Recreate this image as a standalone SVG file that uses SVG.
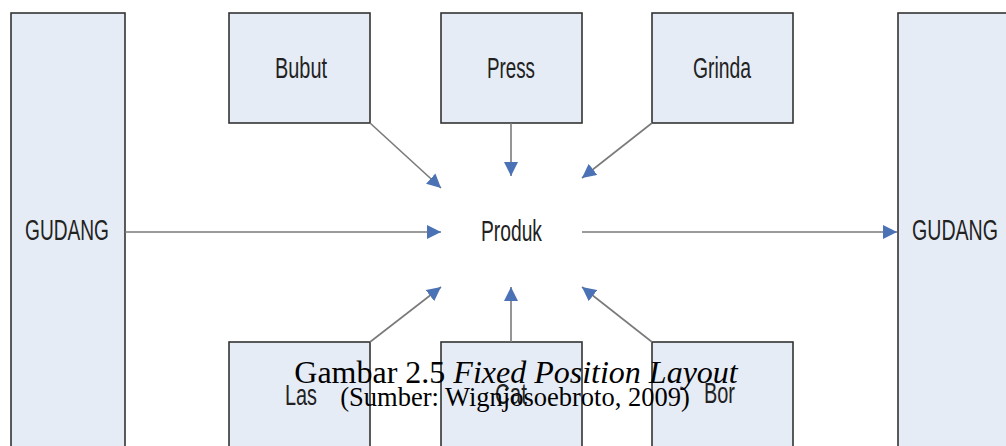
<svg xmlns="http://www.w3.org/2000/svg" width="1006" height="446" viewBox="0 0 1006 446">
<style>
.box{fill:#e6ecf5;stroke:#333;stroke-width:1.6}
.lbl{font-family:"Liberation Sans",Arial,sans-serif;font-size:30px;fill:#222}
.conn line{stroke:#7a7a7a;stroke-width:1.6;marker-end:url(#ah)}
.cap{font-family:"Liberation Serif","Times New Roman",serif;fill:#000}
</style>
<defs>
<marker id="ah" markerUnits="userSpaceOnUse" viewBox="0 0 14 14" refX="14" refY="7" markerWidth="14" markerHeight="14" orient="auto">
<path d="M0,0 L14,7 L0,14 Z" fill="#4a72b5"/>
</marker>
</defs>
<rect width="1006" height="446" fill="#fff"/>
<g id="gudang-left"><rect class="box" x="11" y="13" width="114" height="445"/><text class="lbl" x="25" y="240" textLength="84" lengthAdjust="spacingAndGlyphs">GUDANG</text></g>
<g id="gudang-right"><rect class="box" x="898" y="13" width="114" height="445"/><text class="lbl" x="912" y="240" textLength="86" lengthAdjust="spacingAndGlyphs">GUDANG</text></g>
<g id="bubut"><rect class="box" x="229" y="13" width="141" height="110"/><text class="lbl" x="275" y="78" textLength="52" lengthAdjust="spacingAndGlyphs">Bubut</text></g>
<g id="press"><rect class="box" x="441" y="13" width="141" height="110"/><text class="lbl" x="487" y="78" textLength="48" lengthAdjust="spacingAndGlyphs">Press</text></g>
<g id="grinda"><rect class="box" x="652" y="13" width="141" height="110"/><text class="lbl" x="693" y="78" textLength="58" lengthAdjust="spacingAndGlyphs">Grinda</text></g>
<g id="produk"><text class="lbl" x="481" y="241" textLength="61" lengthAdjust="spacingAndGlyphs">Produk</text></g>
<g id="las"><rect class="box" x="229" y="342" width="141" height="110"/><text class="lbl" x="285" y="405" textLength="32" lengthAdjust="spacingAndGlyphs">Las</text></g>
<g id="cat"><rect class="box" x="441" y="342" width="141" height="110"/><text class="lbl" x="495" y="404" textLength="32" lengthAdjust="spacingAndGlyphs">Cat</text></g>
<g id="bor"><rect class="box" x="652" y="342" width="141" height="110"/><text class="lbl" x="704" y="403" textLength="31" lengthAdjust="spacingAndGlyphs">Bor</text></g>
<g id="connectors" class="conn">
<line x1="125" y1="232" x2="441" y2="232"/>
<line x1="582" y1="232" x2="897" y2="232"/>
<line x1="370" y1="123" x2="441" y2="188"/>
<line x1="511" y1="123" x2="511" y2="176"/>
<line x1="652" y1="123" x2="582" y2="178"/>
<line x1="370" y1="342" x2="441" y2="287"/>
<line x1="511" y1="342" x2="511" y2="287"/>
<line x1="652" y1="342" x2="582" y2="287"/>
</g>
<g id="caption">
<text class="cap" x="516" y="383" font-size="32" text-anchor="middle">Gambar 2.5 <tspan font-style="italic">Fixed Position Layout</tspan></text>
<text class="cap" x="515" y="406" font-size="26.5" text-anchor="middle">(Sumber: Wignjosoebroto, 2009)</text>
</g>
</svg>
